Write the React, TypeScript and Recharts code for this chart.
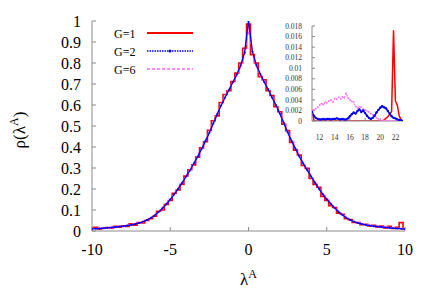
import React from "react";
import { LineChart, Line, XAxis, YAxis, Legend, Label } from "recharts";

// main plot: rho(lambda^A), sampled every 0.25
const lambda = [
  -10, -9.75, -9.5, -9.25, -9, -8.75, -8.5, -8.25, -8, -7.75, -7.5, -7.25, -7, -6.75, -6.5, -6.25,
  -6, -5.75, -5.5, -5.25, -5, -4.75, -4.5, -4.25, -4, -3.75, -3.5, -3.25, -3, -2.75, -2.5, -2.25,
  -2, -1.75, -1.5, -1.25, -1, -0.75, -0.5, -0.25, 0, 0.25, 0.5, 0.75, 1, 1.25, 1.5, 1.75,
  2, 2.25, 2.5, 2.75, 3, 3.25, 3.5, 3.75, 4, 4.25, 4.5, 4.75, 5, 5.25, 5.5, 5.75,
  6, 6.25, 6.5, 6.75, 7, 7.25, 7.5, 7.75, 8, 8.25, 8.5, 8.75, 9, 9.25, 9.5, 9.75, 10,
];

const rhoG1 = [
  0.016, 0.018, 0.01, 0.014, 0.017, 0.015, 0.022, 0.018, 0.025, 0.022, 0.034, 0.028, 0.04, 0.038, 0.05, 0.058,
  0.07, 0.094, 0.1, 0.126, 0.145, 0.18, 0.195, 0.222, 0.262, 0.292, 0.315, 0.352, 0.396, 0.425, 0.48, 0.525,
  0.548, 0.612, 0.65, 0.668, 0.712, 0.752, 0.8, 0.87, 0.985, 0.84, 0.8, 0.735, 0.72, 0.668, 0.645, 0.592,
  0.568, 0.508, 0.478, 0.422, 0.385, 0.362, 0.312, 0.298, 0.25, 0.222, 0.208, 0.165, 0.146, 0.121, 0.112, 0.085,
  0.08, 0.058, 0.054, 0.041, 0.04, 0.03, 0.032, 0.024, 0.027, 0.019, 0.024, 0.014, 0.022, 0.012, 0.018, 0.04, 0.008,
];

const rhoG2 = [
  0.01, 0.011, 0.012, 0.013, 0.015, 0.017, 0.019, 0.021, 0.023, 0.026, 0.029, 0.033, 0.038, 0.044, 0.052, 0.062,
  0.074, 0.09, 0.108, 0.128, 0.15, 0.174, 0.2, 0.229, 0.258, 0.288, 0.32, 0.354, 0.39, 0.428, 0.468, 0.512,
  0.556, 0.598, 0.636, 0.672, 0.708, 0.745, 0.788, 0.85, 1.0, 0.855, 0.79, 0.748, 0.71, 0.675, 0.636, 0.6,
  0.56, 0.515, 0.47, 0.43, 0.392, 0.355, 0.321, 0.29, 0.26, 0.23, 0.201, 0.175, 0.151, 0.13, 0.11, 0.092,
  0.076, 0.063, 0.052, 0.044, 0.038, 0.033, 0.029, 0.026, 0.023, 0.021, 0.019, 0.017, 0.015, 0.013, 0.012, 0.011, 0.009,
];

const rhoG6 = [
  0.012, 0.012, 0.013, 0.014, 0.016, 0.017, 0.02, 0.022, 0.024, 0.027, 0.03, 0.034, 0.039, 0.045, 0.053, 0.063,
  0.076, 0.091, 0.11, 0.13, 0.152, 0.176, 0.203, 0.231, 0.261, 0.291, 0.323, 0.357, 0.393, 0.431, 0.471, 0.514,
  0.558, 0.6, 0.638, 0.674, 0.709, 0.744, 0.784, 0.84, 0.965, 0.845, 0.786, 0.746, 0.711, 0.676, 0.638, 0.601,
  0.561, 0.517, 0.472, 0.432, 0.394, 0.357, 0.323, 0.292, 0.262, 0.232, 0.203, 0.177, 0.153, 0.132, 0.112, 0.094,
  0.078, 0.065, 0.054, 0.045, 0.039, 0.034, 0.03, 0.027, 0.024, 0.022, 0.02, 0.018, 0.016, 0.014, 0.013, 0.012, 0.011,
];

const xTicks = [-10, -5, 0, 5, 10];
const yTicks = [0, 0.1, 0.2, 0.3, 0.4, 0.5, 0.6, 0.7, 0.8, 0.9, 1];

// inset: tail of the distribution
const insetLambda = [
  11, 11.25, 11.5, 11.75, 12, 12.25, 12.5, 12.75, 13, 13.25, 13.5, 13.75, 14, 14.25, 14.5, 14.75,
  15, 15.25, 15.5, 15.75, 16, 16.25, 16.5, 16.75, 17, 17.25, 17.5, 17.75, 18, 18.25, 18.5, 18.75,
  19, 19.25, 19.5, 19.75, 20, 20.25, 20.5, 20.75, 21, 21.25, 21.5, 21.75, 22, 22.25, 22.5, 22.75, 23,
];

const insetG1 = [
  0.0021, 0.0001, 0, 0, 0, 0, 0, 0, 0, 0, 0, 0, 0, 0, 0, 0,
  0, 0, 0, 0, 0, 0, 0, 0, 0, 0, 0, 0, 0, 0, 0, 0,
  0, 0, 0, 0, 0, 0, 0.0002, 0.0005, 0.0008, 0.0013, 0.0018, 0.0172, 0.0038, 0.003, 0.001, 0.0002, 0,
];

const insetG2 = [
  0.0017, 0.001, 0.0006, 0.0004, 0.0003, 0.0003, 0.0004, 0.0003, 0.0004, 0.0004, 0.0003, 0.0004, 0.0004, 0.0005, 0.0004, 0.0003,
  0.0004, 0.0003, 0.0003, 0.0005, 0.0009, 0.0013, 0.0016, 0.0014, 0.0019, 0.0022, 0.0017, 0.002, 0.0015, 0.001, 0.0006, 0.0004,
  0.0006, 0.001, 0.0016, 0.0021, 0.0025, 0.0028, 0.0026, 0.0024, 0.0019, 0.0014, 0.0009, 0.0006, 0.0005, 0.0003, 0.0002, 0.0001, 0,
];

const insetG6 = [
  0.002, 0.0021, 0.0023, 0.0026, 0.003, 0.0033, 0.0031, 0.0036, 0.0034, 0.0038, 0.004, 0.0036, 0.0043, 0.0041, 0.0045, 0.0042,
  0.0046, 0.0043, 0.0052, 0.0044, 0.004, 0.0037, 0.0036, 0.0028, 0.0024, 0.0027, 0.0026, 0.0022, 0.0021, 0.0019, 0.0017, 0.0014,
  0.0012, 0.001, 0.0006, 0.0004, 0.0002, 0.0001, 0.0001, 0, 0, 0, 0, 0, 0, 0, 0, 0, 0,
];

const insetXTicks = [12, 14, 16, 18, 20, 22];
const insetYTicks = [0, 0.002, 0.004, 0.006, 0.008, 0.01, 0.012, 0.014, 0.016, 0.018];

const mainData = lambda.map((x, i) => ({ x, g1: rhoG1[i], g2: rhoG2[i], g6: rhoG6[i] }));
const insetData = insetLambda.map((x, i) => ({ x, g1: insetG1[i], g2: insetG2[i], g6: insetG6[i] }));

const FONT = "Liberation Serif, Times New Roman, DejaVu Serif, serif";
const FRAME = "#8a8a8a";
const RED = "#ff0000";
const BLUE = "#0000ff";
const MAGENTA = "#ff66ff";

const legendRows = [
  { label: "G=1", color: RED, dash: undefined as string | undefined, marker: false },
  { label: "G=2", color: BLUE, dash: "1.5 1", marker: true },
  { label: "G=6", color: MAGENTA, dash: "3 2", marker: false },
];

function renderLegend() {
  return (
    <svg width={100} height={58} style={{ display: "block" }}>
      {legendRows.map((r, i) => {
        const y = 11 + i * 18;
        return (
          <g key={r.label}>
            <text x={6} y={y + 4.5} fontSize={12} style={{ fontFamily: FONT }} fill="#000">
              {r.label}
            </text>
            <line x1={39} x2={85} y1={y} y2={y} stroke={r.color} strokeWidth={r.dash ? 1.5 : 2} strokeDasharray={r.dash} />
            {r.marker && <circle cx={62} cy={y} r={1.5} fill={r.color} />}
          </g>
        );
      })}
    </svg>
  );
}

function YTitle({ viewBox }: any) {
  const cx = 25;
  const cy = viewBox.y + viewBox.height / 2 + 4;
  return (
    <text x={cx} y={cy} transform={`rotate(-90 ${cx} ${cy})`} textAnchor="middle" fontSize={17} style={{ fontFamily: FONT }} fill="#000">
      ρ(λ<tspan dy={-7} fontSize={12}>A</tspan>
      <tspan dy={7}>)</tspan>
    </text>
  );
}

function XTitle({ viewBox }: any) {
  const cx = viewBox.x + viewBox.width / 2;
  return (
    <text x={cx} y={viewBox.y + 54} textAnchor="middle" fontSize={17} style={{ fontFamily: FONT }} fill="#000">
      λ<tspan dy={-7} fontSize={12}>A</tspan>
    </text>
  );
}

const mainTick = { fill: "#000", fontSize: 16, style: { fontFamily: FONT } };
const insetTick = { fill: "#333", fontSize: 7.5, style: { fontFamily: FONT } };
const frameLine = { stroke: FRAME, strokeWidth: 1 };

function Inset() {
  return (
    <div style={{ position: "absolute", left: 270, top: 20 }}>
      <LineChart width={140} height={125} data={insetData} margin={{ top: 6, right: 7, left: 0, bottom: 0 }}>
        <XAxis
          dataKey="x"
          type="number"
          domain={[11, 23]}
          ticks={insetXTicks}
          interval={0}
          height={24}
          tick={insetTick}
          tickSize={-3}
          tickMargin={17}
          axisLine={frameLine}
          tickLine={frameLine}
          allowDataOverflow
        />
        <XAxis
          xAxisId="top"
          orientation="top"
          type="number"
          domain={[11, 23]}
          ticks={insetXTicks}
          interval={0}
          height={0}
          tick={false}
          tickSize={-3}
          axisLine={frameLine}
          tickLine={frameLine}
          allowDataOverflow
        />
        <YAxis
          type="number"
          domain={[0, 0.018]}
          ticks={insetYTicks}
          interval={0}
          width={42}
          tick={insetTick}
          tickSize={-3}
          tickMargin={13}
          axisLine={frameLine}
          tickLine={frameLine}
          allowDataOverflow
        />
        <YAxis
          yAxisId="right"
          orientation="right"
          type="number"
          domain={[0, 0.018]}
          ticks={insetYTicks}
          interval={0}
          width={0}
          tick={false}
          tickSize={-3}
          axisLine={frameLine}
          tickLine={frameLine}
          allowDataOverflow
        />
        <Line dataKey="g1" type="linear" stroke={RED} strokeWidth={1.5} dot={false} isAnimationActive={false} />
        <Line
          dataKey="g6"
          type="linear"
          stroke={MAGENTA}
          strokeWidth={1.2}
          strokeDasharray="1.5 1.5"
          dot={{ r: 0.8, fill: MAGENTA, stroke: "none" }}
          isAnimationActive={false}
        />
        <Line
          dataKey="g2"
          type="linear"
          stroke={BLUE}
          strokeWidth={1.5}
          dot={{ r: 1.2, fill: BLUE, stroke: "none" }}
          isAnimationActive={false}
        />
      </LineChart>
    </div>
  );
}

export default function App() {
  return (
    <div style={{ position: "absolute", left: 0, top: 0, width: 436, height: 305, background: "#fff", fontFamily: FONT }}>
      <LineChart width={436} height={305} data={mainData} margin={{ top: 21, right: 31, left: 0, bottom: 0 }}>
        <XAxis
          dataKey="x"
          type="number"
          domain={[-10, 10]}
          ticks={xTicks}
          interval={0}
          height={74}
          tick={mainTick}
          tickSize={-4}
          tickMargin={17}
          axisLine={frameLine}
          tickLine={frameLine}
          allowDataOverflow
        >
          <Label content={XTitle} />
        </XAxis>
        <XAxis
          xAxisId="top"
          orientation="top"
          type="number"
          domain={[-10, 10]}
          ticks={xTicks}
          interval={0}
          height={0}
          tick={false}
          tickSize={-4}
          axisLine={frameLine}
          tickLine={frameLine}
          allowDataOverflow
        />
        <YAxis
          type="number"
          domain={[0, 1]}
          ticks={yTicks}
          interval={0}
          width={92}
          tick={mainTick}
          tickSize={-4}
          tickMargin={15}
          axisLine={frameLine}
          tickLine={frameLine}
          allowDataOverflow
        >
          <Label content={YTitle} />
        </YAxis>
        <YAxis
          yAxisId="right"
          orientation="right"
          type="number"
          domain={[0, 1]}
          ticks={yTicks}
          interval={0}
          width={0}
          tick={false}
          tickSize={-4}
          axisLine={frameLine}
          tickLine={frameLine}
          allowDataOverflow
        />
        <Legend
          layout="vertical"
          align="center"
          verticalAlign="middle"
          wrapperStyle={{ left: 108, top: 22, width: 100 }}
          content={renderLegend}
        />
        <Line dataKey="g1" type="step" stroke={RED} strokeWidth={1.6} dot={false} isAnimationActive={false} />
        <Line
          dataKey="g6"
          type="linear"
          stroke={MAGENTA}
          strokeWidth={1.6}
          strokeDasharray="3 2"
          dot={false}
          isAnimationActive={false}
        />
        <Line
          dataKey="g2"
          type="linear"
          stroke={BLUE}
          strokeWidth={1.3}
          dot={{ r: 1, fill: BLUE, stroke: "none" }}
          isAnimationActive={false}
        />
      </LineChart>
      <Inset />
    </div>
  );
}
